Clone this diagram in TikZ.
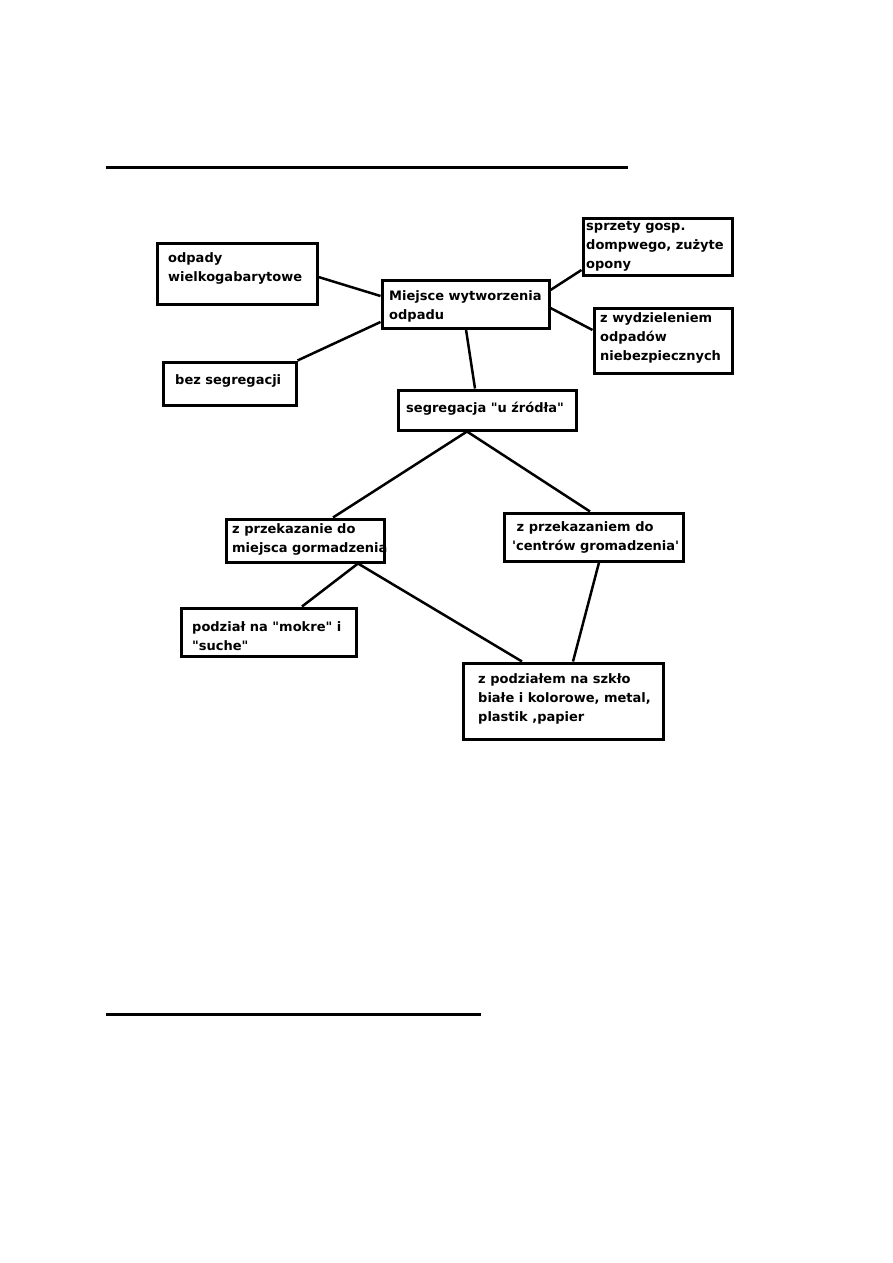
\documentclass[tikz,border=0pt]{standalone}
\usepackage{fontspec}
\newfontfamily\djv{DejaVu Sans}
\begin{document}
\begin{tikzpicture}[x=1pt,y=-1pt,
  box/.style={draw, line width=3pt, rectangle, inner sep=0pt},
  txt/.style={anchor=base west, inner sep=0pt, align=left, font=\djv\fontsize{13pt}{19pt}\selectfont\bfseries},
  conn/.style={line width=2.5pt},
  rulefill/.style={line width=3pt}]
\useasboundingbox (0,0) rectangle (893,1263);
\fill[white] (0,0) rectangle (893,1263);

% horizontal rules
\coordinate (r1a) at (106,167); \coordinate (r1b) at (628,167);
\coordinate (r2a) at (106,1014); \coordinate (r2b) at (481,1014);
\draw[rulefill] (r1a) -- (r1b);
\draw[rulefill] (r2a) -- (r2b);

% boxes
\node[box, minimum width=160pt, minimum height=61pt] (odp) at (237,273.5) {};
\node[box, minimum width=133pt, minimum height=43pt] (bez) at (229.5,383.5) {};
\node[box, minimum width=167pt, minimum height=48pt] (mie) at (465.5,304) {};
\node[box, minimum width=149pt, minimum height=57pt] (spr) at (657.5,246.5) {};
\node[box, minimum width=138pt, minimum height=65pt] (wyd) at (663,340.5) {};
\node[box, minimum width=178pt, minimum height=40pt] (seg) at (487,410) {};
\node[box, minimum width=158pt, minimum height=43pt] (prz) at (305,540.5) {};
\node[box, minimum width=179pt, minimum height=48pt] (cen) at (593.5,537) {};
\node[box, minimum width=175pt, minimum height=48pt] (pmo) at (268.5,632) {};
\node[box, minimum width=200pt, minimum height=76pt] (psz) at (563,701) {};

% texts (anchor = baseline of last line)
\node[txt] (odpT) at (168,281) {odpady\\wielkogabarytowe};
\node[txt] (bezT) at (175,384) {bez segregacji};
\node[txt] (mieT) at (389,319) {Miejsce wytworzenia\\odpadu};
\node[txt] (sprT) at (586,268) {sprzety gosp.\\dompwego, zużyte\\opony};
\node[txt] (wydT) at (600,360) {z wydzieleniem\\odpadów\\niebezpiecznych};
\node[txt] (segT) at (406,412) {segregacja "u źródła"};
\node[txt] (przT) at (232,552) {z przekazanie do\\miejsca gormadzenia};
\node[txt] (cenT) at (512,550) {\ z przekazaniem do\\'centrów gromadzenia'};
\node[txt] (pmoT) at (192,650) {podział na "mokre" i\\"suche"};
\node[txt] (pszT) at (478,721) {z podziałem na szkło\\białe i kolorowe, metal,\\plastik ,papier};

% connectors
\draw[conn] ([yshift=-3.5pt]odp.east) -- ([yshift=8pt]mie.west);
\draw[conn] (bez.north east) -- ([yshift=-18pt]mie.west);
\draw[conn] ([yshift=14pt]mie.east) -- ([yshift=-23.5pt]spr.west);
\draw[conn] ([yshift=-4pt]mie.east) -- ([yshift=10.5pt]wyd.west);
\draw[conn] ([xshift=0.5pt]mie.south) -- ([xshift=-12pt]seg.north);
\draw[conn] ([xshift=-20pt]seg.south) -- ([xshift=28pt]prz.north);
\draw[conn] ([xshift=-20pt]seg.south) -- ([xshift=-3.5pt]cen.north);
\draw[conn] ([xshift=53pt]prz.south) -- ([xshift=33.5pt]pmo.north);
\draw[conn] ([xshift=53pt]prz.south) -- ([xshift=-41pt]psz.north);
\draw[conn] ([xshift=5.5pt]cen.south) -- ([xshift=10pt]psz.north);
\end{tikzpicture}
\end{document}
